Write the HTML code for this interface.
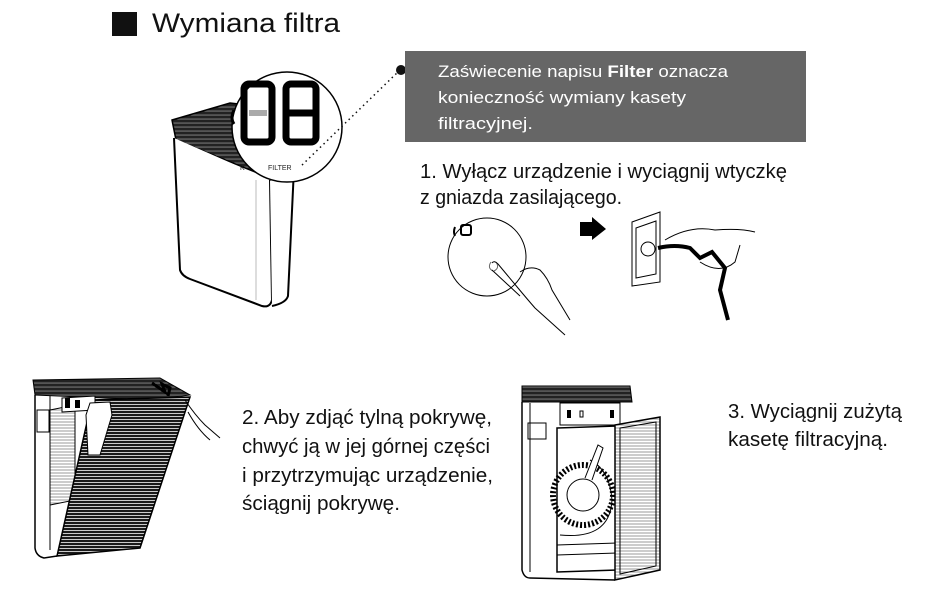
<!DOCTYPE html>
<html><head><meta charset="utf-8"><style>
html,body{margin:0;padding:0;background:#fff;}
svg{display:block;}
text{font-family:"Liberation Sans",sans-serif;}
</style></head><body>
<svg width="926" height="590" viewBox="0 0 926 590" xmlns="http://www.w3.org/2000/svg">
<defs>
<pattern id="dark" width="6" height="4" patternUnits="userSpaceOnUse">
<rect width="6" height="4" fill="#222"/><rect y="2.6" width="6" height="0.9" fill="#888"/>
</pattern>
<pattern id="stripes" width="6" height="3" patternUnits="userSpaceOnUse">
<rect width="6" height="3" fill="#1a1a1a"/><rect y="2" width="6" height="0.9" fill="#ddd"/>
</pattern>
<pattern id="grille" width="4" height="3" patternUnits="userSpaceOnUse">
<rect width="4" height="3" fill="#fff"/><rect y="1.5" width="4" height="1" fill="#999"/>
</pattern>
</defs>

<!-- Title -->
<rect x="112" y="12" width="25" height="24" fill="#111"/>
<text x="152" y="32" font-size="27" textLength="188" lengthAdjust="spacingAndGlyphs" fill="#111">Wymiana filtra</text>

<!-- Top-left device -->
<path d="M172,120 L230,103 L292,110 L292,165 L270,178 L176,140 Z" fill="url(#dark)" stroke="#000" stroke-width="1.5"/>
<path d="M174,138 L180,270 Q182,276 190,279 L262,306 Q270,308 272,300 L270,180" fill="#fff" stroke="#000" stroke-width="2"/>
<path d="M270,180 L294,168 L288,296 Q286,303 272,306" fill="#fff" stroke="#000" stroke-width="2"/>
<line x1="256" y1="180" x2="256" y2="300" stroke="#bbb" stroke-width="1"/>
<!-- Magnifier -->
<circle cx="287" cy="127" r="55" fill="#fff" stroke="#000" stroke-width="1.5"/>
<g fill="none" stroke="#000" stroke-width="7" stroke-linejoin="round">
<rect x="244" y="84" width="28" height="58" rx="5"/>
<rect x="286" y="84" width="30" height="58" rx="5"/>
<line x1="289" y1="113" x2="313" y2="113"/>
</g>
<line x1="249" y1="113" x2="267" y2="113" stroke="#aaa" stroke-width="6"/>
<path d="M234,110 Q230,118 234,124" stroke="#000" stroke-width="3" fill="none"/>
<text x="268" y="170" font-size="7" fill="#222">FILTER</text>
<text x="240" y="170" font-size="7" fill="#222">K</text>
<!-- dotted leader -->
<line x1="400" y1="70" x2="300" y2="167" stroke="#111" stroke-width="1.5" stroke-dasharray="1.5,3.5"/>
<circle cx="401" cy="70" r="5" fill="#111"/>

<!-- Grey box -->
<rect x="405" y="51" width="401" height="91" fill="#666"/>
<text x="438" y="77" font-size="17" fill="#fff" textLength="290" lengthAdjust="spacingAndGlyphs">Zaświecenie napisu <tspan font-weight="bold">Filter</tspan> oznacza</text>
<text x="438" y="103" font-size="17" fill="#fff" textLength="248" lengthAdjust="spacingAndGlyphs">konieczność wymiany kasety</text>
<text x="438" y="129" font-size="17" fill="#fff" textLength="95" lengthAdjust="spacingAndGlyphs">filtracyjnej.</text>

<!-- Step 1 -->
<text x="420" y="178" font-size="20" fill="#111" textLength="367" lengthAdjust="spacingAndGlyphs">1. Wyłącz urządzenie i wyciągnij wtyczkę</text>
<text x="420" y="204" font-size="20" fill="#111" textLength="202" lengthAdjust="spacingAndGlyphs">z gniazda zasilającego.</text>
<circle cx="487" cy="257" r="39" fill="none" stroke="#000" stroke-width="1"/>
<rect x="461" y="225" width="10" height="10" rx="2" fill="none" stroke="#000" stroke-width="2"/>
<path d="M455,227 Q453,232 455,236" stroke="#000" stroke-width="2" fill="none"/>
<path d="M491,262 Q487,268 493,271 M496,262 Q500,268 494,271" stroke="#666" fill="none"/>
<path d="M492,263 Q494,260 498,264 L518,288 Q528,300 535,308 L565,335" stroke="#000" fill="none"/>
<path d="M492,270 L520,296 M520,272 Q530,265 540,270 Q548,278 552,290 L570,320" stroke="#000" fill="none"/>
<path d="M580,222 L592,222 L592,217 L606,229 L592,240 L592,236 L580,236 Z" fill="#000"/>
<path d="M632,222 L660,212 L660,282 L632,286 Z" fill="none" stroke="#000"/>
<path d="M636,228 L656,221 L656,274 L636,278 Z" fill="none" stroke="#000"/>
<circle cx="648" cy="249" r="7" fill="none" stroke="#000"/>
<path d="M658,248 Q675,244 690,248 L700,258 L712,252 L725,268 L720,290 L728,320" stroke="#000" stroke-width="4" fill="none"/>
<path d="M665,240 Q690,225 715,230 Q740,228 755,232 M700,262 Q720,275 735,262 L740,245" stroke="#000" fill="none"/>

<!-- Step 2 device -->
<path d="M33,380 L160,378 L190,395 L150,400 L35,395 Z" fill="url(#dark)" stroke="#000"/>
<path d="M35,395 L35,548 Q36,556 44,558 L57,556" fill="#fff" stroke="#000" stroke-width="1.5"/>
<line x1="50" y1="396" x2="50" y2="550" stroke="#000"/>
<rect x="37" y="410" width="12" height="22" fill="none" stroke="#000"/>
<path d="M50,410 L75,405 L75,500 L50,505 Z" fill="url(#grille)" stroke="#000"/>
<path d="M92,400 L190,397 L140,548 L57,556 Z" fill="url(#stripes)" stroke="#000" stroke-width="1.5"/>
<path d="M62,398 L95,396 L95,410 L62,412 Z" fill="#fff" stroke="#000"/>
<rect x="65" y="398" width="5" height="10" fill="#000"/><rect x="75" y="400" width="5" height="8" fill="#000"/>
<path d="M90,403 L110,402 L112,415 L100,455 L88,455 L86,415 Z" fill="#fff" stroke="#000"/>
<path d="M185,400 Q195,415 205,425 L220,438 M188,412 Q198,430 210,440" stroke="#000" fill="none"/>
<path d="M152,383 L165,392 L162,384 L170,388 L168,396" stroke="#000" stroke-width="3" fill="none"/>
<text x="242" y="424" font-size="20" fill="#111" textLength="250" lengthAdjust="spacingAndGlyphs">2. Aby zdjąć tylną pokrywę,</text>
<text x="242" y="453" font-size="20" fill="#111" textLength="248" lengthAdjust="spacingAndGlyphs">chwyć ją w jej górnej części</text>
<text x="242" y="482" font-size="20" fill="#111" textLength="251" lengthAdjust="spacingAndGlyphs">i przytrzymując urządzenie,</text>
<text x="242" y="510" font-size="20" fill="#111" textLength="158" lengthAdjust="spacingAndGlyphs">ściągnij pokrywę.</text>

<!-- Step 3 device -->
<path d="M522,386 L630,386 L632,402 L522,402 Z" fill="url(#dark)" stroke="#000"/>
<path d="M522,402 L522,570 Q524,578 530,578 L615,580" fill="#fff" stroke="#000" stroke-width="1.5"/>
<line x1="530" y1="403" x2="530" y2="572" stroke="#000"/>
<rect x="528" y="423" width="18" height="16" fill="none" stroke="#000"/>
<path d="M560,403 L620,403 L620,425 L560,425 Z" fill="#fff" stroke="#000"/>
<rect x="567" y="410" width="4" height="8" fill="#000"/><rect x="580" y="411" width="3" height="6" fill="none" stroke="#000"/><rect x="610" y="410" width="4" height="8" fill="#000"/>
<path d="M557,428 L617,426 L617,570 L557,572 Z" fill="#fff" stroke="#000" stroke-width="1.5"/>
<path d="M560,535 Q610,540 612,500 Q610,470 590,460" stroke="#000" fill="none"/>
<circle cx="583" cy="495" r="30" fill="none" stroke="#000" stroke-width="6" stroke-dasharray="2,2"/>
<circle cx="583" cy="495" r="16" fill="#fff" stroke="#000"/>
<path d="M585,478 L598,445 L603,448 L592,480" fill="#fff" stroke="#000"/>
<path d="M557,545 L617,543 M557,555 L617,553" stroke="#000"/>
<path d="M615,425 L660,417 L660,570 L615,580 Z" fill="url(#grille)" stroke="#000" stroke-width="1.5"/>
<path d="M620,428 L656,422 L656,566 L620,574 Z" fill="none" stroke="#000"/>
<text x="728" y="418" font-size="20" fill="#111" textLength="174" lengthAdjust="spacingAndGlyphs">3. Wyciągnij zużytą</text>
<text x="728" y="446" font-size="20" fill="#111" textLength="160" lengthAdjust="spacingAndGlyphs">kasetę filtracyjną.</text>
</svg>
</body></html>
